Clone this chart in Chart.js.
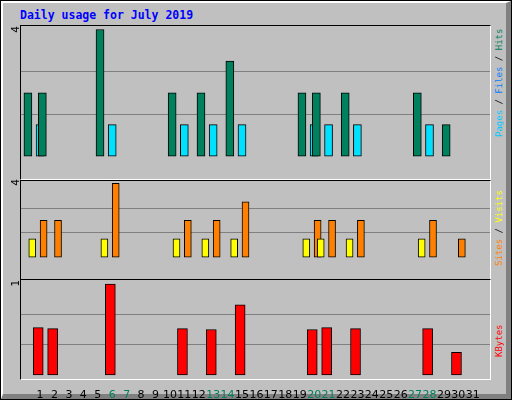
<!DOCTYPE html>
<html>
<head>
<meta charset="utf-8">
<script src="https://cdn.jsdelivr.net/npm/chart.js@4"></script>
<style>
  body { margin: 0; background: #fff; }
  #frame { position: absolute; left: 0; top: 0; width: 510px; height: 398px; border: 1px solid #000; background: #C0C0C0; }
  #bevel { position: absolute; left: 0; top: 0; width: 503px; height: 391px; border-left: 2px solid #fff; border-top: 2px solid #fff; border-right: 5px solid #808080; border-bottom: 5px solid #808080; }
  .panel { position: absolute; left: 20px; width: 469px; border-top: 1px solid #000; border-left: 1px solid #000; border-right: 1px solid #fff; border-bottom: 1px solid #fff; }
  .box { position: absolute; left: 21px; width: 469px; }
  .title { position: absolute; left: 20px; top: 8px; font: bold 11.5px "DejaVu Sans Mono", monospace; color: #0000FF; }
  .vlab { position: absolute; writing-mode: vertical-rl; transform: rotate(180deg); font: 9px "DejaVu Sans Mono", monospace; white-space: nowrap; }
  .vnum { position: absolute; writing-mode: vertical-rl; transform: rotate(180deg); font: 11px "DejaVu Sans Mono", monospace; }
</style>
</head>
<body>
<div id="frame"><div id="bevel"></div></div>
<div class="title">Daily usage for July 2019</div>
<div class="panel" style="top:25px;height:153px"></div>
<div class="panel" style="top:180px;height:98px"></div>
<div class="panel" style="top:279px;height:99px"></div>
<div class="box" style="top:26px;height:152px"><canvas id="c1"></canvas></div>
<div class="box" style="top:181px;height:97px"><canvas id="c2"></canvas></div>
<div class="box" style="top:280px;height:118px"><canvas id="c3"></canvas></div>

<div class="vnum" style="left:9px;top:26px;color:#000">4</div>
<div class="vnum" style="left:9px;top:179px;color:#000">4</div>
<div class="vnum" style="left:9px;top:280px;color:#000">1</div>
<div class="vlab" style="left:494px;top:29px;height:110px;text-align:right"><span style="color:#00C8FF">Pages</span><span style="color:#000"> / </span><span style="color:#0080FF">Files</span><span style="color:#000"> / </span><span style="color:#00805C">Hits</span></div>
<div class="vlab" style="left:494px;top:190px;height:88px;text-align:right"><span style="color:#FF8000">Sites</span><span style="color:#000"> / </span><span style="color:#FFFF00">Visits</span></div>
<div class="vlab" style="left:494px;top:324px;height:52px;text-align:right;color:#FF0000">KBytes</div>

<script>
const DAYS = Array.from({ length: 31 }, (_, i) => i + 1);
const WEEKENDS = [6, 7, 13, 14, 20, 21, 27, 28];

// value per day 1..31
const HITS   = [2,2,0,0,0,4,0,0,0,0,2,0,2,0,3,0,0,0,0,2,2,0,2,0,0,0,0,2,0,1,0];
const FILES  = [1,0,0,0,0,1,0,0,0,0,1,0,1,0,1,0,0,0,0,1,1,0,1,0,0,0,0,1,0,0,0];
const PAGES  = [0,0,0,0,0,0,0,0,0,0,0,0,0,0,0,0,0,0,0,0,0,0,0,0,0,0,0,0,0,0,0];
const VISITS = [1,0,0,0,0,1,0,0,0,0,1,0,1,0,1,0,0,0,0,1,1,0,1,0,0,0,0,1,0,0,0];
const SITES  = [2,2,0,0,0,4,0,0,0,0,2,0,2,0,3,0,0,0,0,2,2,0,2,0,0,0,0,2,0,1,0];
const KBYTES = [0.52,0.51,0,0,0,1.0,0,0,0,0,0.51,0,0.50,0,0.77,0,0,0,0,0.50,0.52,0,0.51,0,0,0,0,0.51,0,0.25,0];

const X_MIN = 0.2, X_MAX = 31.67;

function series(vals, offset, color, thick) {
  return {
    data: DAYS.map((d, i) => ({ x: d + offset, y: vals[i] })).filter(p => p.y > 0),
    backgroundColor: color,
    borderColor: '#000',
    borderWidth: 1,
    borderSkipped: false,
    barThickness: thick,
  };
}

function makeChart(id, datasets, yMin, yMax, grid, showX) {
  return new Chart(document.getElementById(id), {
    type: 'bar',
    data: { datasets },
    options: {
      responsive: true,
      maintainAspectRatio: false,
      animation: false,
      layout: { padding: 0 },
      plugins: { legend: { display: false }, tooltip: { enabled: false } },
      scales: {
        x: {
          type: 'linear', min: X_MIN, max: X_MAX,
          display: showX,
          grid: { display: false },
          border: { display: false },
          afterBuildTicks: (s) => { s.ticks = DAYS.map(v => ({ value: v })); },
          afterFit: (s) => { s.height = 20; },
          ticks: {
            autoSkip: false, maxRotation: 0, padding: 3,
            font: { family: 'DejaVu Sans', size: 11 },
            color: (ctx) => WEEKENDS.includes(ctx.tick.value) ? '#00805C' : '#000',
          },
        },
        y: {
          min: yMin, max: yMax,
          display: true,
          border: { display: false },
          afterBuildTicks: (s) => { s.ticks = grid.map(v => ({ value: v })); },
          afterFit: (s) => { s.width = 0; },
          ticks: { display: false },
          grid: { color: '#808080', lineWidth: 1, drawTicks: false },
        },
      },
    },
  });
}

makeChart('c1', [
  series(HITS, -0.29, '#00805C', 8),
  series(FILES, 0, '#00E0FF', 8),
  series(PAGES, 0.29, '#00C8FF', 8),
], -0.055, 4.11, [4 / 3, 8 / 3], false);

makeChart('c2', [
  series(VISITS, -0.3, '#FFFF00', 7),
  series(SITES, 0, '#FF8000', 7),
], -0.043, 4.13, [4 / 3, 8 / 3], false);

makeChart('c3', [
  series(KBYTES, -0.13, '#FF0000', 10),
], -0.033, 1.044, [1 / 3, 2 / 3], true);
</script>
</body>
</html>
